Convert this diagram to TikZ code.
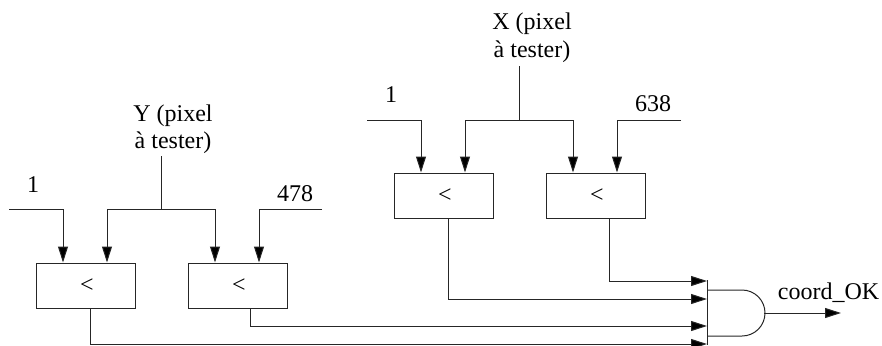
\documentclass[tikz,border=0pt]{standalone}
\usepackage{fontspec}
\setmainfont{Liberation Serif}
\usetikzlibrary{arrows.meta}

\newcommand{\cmpsign}{\hspace*{3pt}\raisebox{-2pt}{<}}

\begin{document}
\begin{tikzpicture}
		[x=1pt,y=-1pt,
		cmp/.style= {minimum width=99pt,minimum height=45pt,inner sep=0pt,line width=1pt,draw=black!85,font=\fontsize{24}{27}\selectfont},
		lab/.style= {inner sep=0pt,anchor=base,font=\fontsize{24}{27}\selectfont},
		wire/.style= {line width=1pt,draw=black!85},
		arr/.style= {wire,-{Triangle[length=16pt,width=10pt,fill=black]}}]

		\useasboundingbox (0,0) rectangle (882,345);

		\node[cmp] (y0) at (85.5,285.5) {\cmpsign}
		;
		\node[cmp] (y1) at (237.5,285.5) {\cmpsign}
		;
		\node[cmp] (x0) at (443.5,195.5) {\cmpsign}
		;
		\node[cmp] (x1) at (595.5,195.5) {\cmpsign}
		;

		\node[lab] (ylab0) at (173,121) {Y (pixel};
		\node[lab] (ylab1) at (173,148) {à tester)};
		\node[lab] (xlab0) at (532,30) {X (pixel};
		\node[lab] (xlab1) at (532,57) {à tester)};
		\node[lab] (yone) at (33,192) {1};
		\node[lab] (xone) at (391,102) {1};
		\node[lab] (ymax) at (295,201) {478};
		\node[lab] (xmax) at (653,111) {638};
		\node[lab] (ok) at (828.5,299) {coord\_OK};

		% inputs of the Y side
		\coordinate (yj) at (161,209);
		\coordinate (ys) at (161,156) edge [wire] (yj);
		\coordinate (yi0) at (9,209);
		\coordinate (yi1) at (322,209);
		\draw[arr] (yi0) -| (63,263 |- y0.north);
		\draw[arr] (yj) -| (107,263 |- y0.north);
		\draw[arr] (yj) -| (215,263 |- y1.north);
		\draw[arr] (yi1) -| (259,263 |- y1.north);

		% inputs of the X side
		\coordinate (xj) at (519,120);
		\coordinate (xs) at (519,66) edge [wire] (xj);
		\coordinate (xi0) at (367,120);
		\coordinate (xi1) at (681,120);
		\draw[arr] (xi0) -| (421,173 |- x0.north);
		\draw[arr] (xj) -| (465,173 |- x0.north);
		\draw[arr] (xj) -| (573,173 |- x1.north);
		\draw[arr] (xi1) -| (617,173 |- x1.north);

		% the gate
		\coordinate (gt) at (707,280);
		\coordinate (gb) at (707,345);
		\coordinate (gout) at (764,313);
		\coordinate (gend) at (841,313);
		\draw[wire] (gt) -- (gb);
		\draw[wire] (707,290) -- (742,290) arc (90:-90:23pt) -- (707,336);
		\draw[arr] (gout) -- (gend);

		\coordinate (g0) at (707,281);
		\coordinate (g1) at (707,299);
		\coordinate (g2) at (707,326);
		\coordinate (g3) at (707,344);
		\draw[arr] (x1.south -| 609,0) |- (g0);
		\draw[arr] (x0.south -| 448,0) |- (g1);
		\draw[arr] (y1.south -| 250,0) |- (g2);
		\draw[arr] (y0.south -| 90,0) |- (g3);

	\end{tikzpicture}
\end{document}
